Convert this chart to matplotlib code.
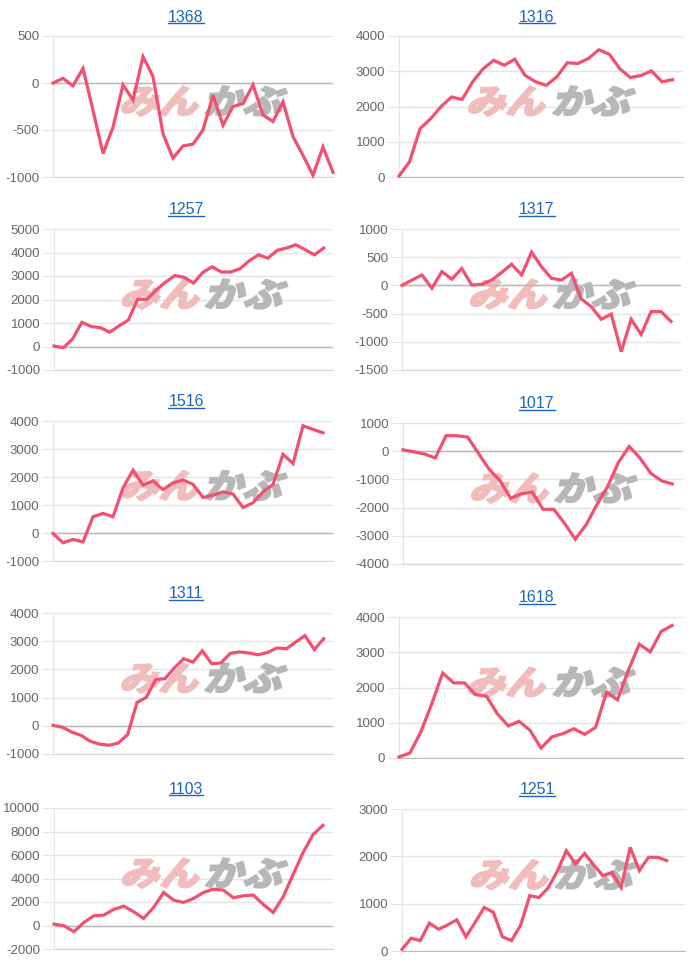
import numpy as np
import matplotlib
matplotlib.use("Agg")
import matplotlib.pyplot as plt
from matplotlib.font_manager import FontProperties
from matplotlib.textpath import TextPath
from matplotlib.patches import PathPatch
from matplotlib.transforms import Affine2D, ScaledTranslation
from matplotlib.lines import Line2D

plt.rcParams['font.family'] = ['Liberation Sans', 'DejaVu Sans']
plt.rcParams['axes.unicode_minus'] = False

titles = ['1368', '1316', '1257', '1317', '1516', '1017', '1311', '1618', '1103', '1251']

v1368 = [0, 50, -30, 155, -290, -750, -470, -20, -180, 280, 70, -540, -800, -670, -650,
         -500, -130, -450, -250, -220, -20, -340, -410, -200, -570, -770, -980, -680, -950]
v1316 = [30, 430, 1370, 1650, 2000, 2270, 2200, 2700, 3070, 3310, 3170, 3340, 2880, 2700,
         2600, 2840, 3240, 3220, 3360, 3610, 3480, 3070, 2820, 2880, 3010, 2700, 2760]
v1257 = [20, -50, 320, 1030, 850, 800, 610, 880, 1130, 2010, 2010, 2410, 2740, 3020, 2940,
         2700, 3150, 3390, 3170, 3170, 3310, 3650, 3900, 3760, 4090, 4190, 4330, 4120, 3900, 4190]
v1317 = [0, 95, 185, -50, 245, 110, 300, 7, 19, 95, 230, 375, 185, 590, 330, 125, 95, 215,
         -240, -380, -600, -510, -1175, -600, -870, -465, -465, -640]
v1516 = [-15, -350, -230, -320, 580, 700, 580, 1610, 2240, 1710, 1860, 1550, 1790, 1890,
         1740, 1270, 1350, 1470, 1390, 910, 1080, 1470, 1730, 2810, 2480, 3830, 3700, 3580]
v1017 = [50, -20, -100, -240, 550, 550, 500, -70, -640, -1040, -1670, -1510, -1450, -2060,
         -2060, -2560, -3120, -2610, -1900, -1250, -400, 170, -240, -780, -1050, -1160]
v1311 = [17, -50, -220, -340, -550, -650, -690, -610, -310, 830, 1010, 1640, 1670, 2050, 2380,
         2260, 2660, 2200, 2230, 2570, 2620, 2580, 2520, 2600, 2760, 2730, 2970, 3200, 2700, 3090]
v1618 = [30, 140, 740, 1540, 2410, 2130, 2130, 1800, 1750, 1260, 910, 1040, 785, 280, 600,
         690, 830, 670, 870, 1870, 1650, 2490, 3230, 3010, 3590, 3760]
v1103 = [120, -20, -530, 260, 830, 890, 1370, 1650, 1170, 600, 1540, 2810, 2160, 1960, 2300,
         2810, 3090, 3010, 2360, 2530, 2590, 1790, 1110, 2440, 4340, 6210, 7740, 8530]
v1251 = [35, 270, 220, 590, 460, 550, 660, 300, 600, 920, 820, 300, 220, 550, 1170, 1130,
         1330, 1680, 2120, 1840, 2060, 1820, 1590, 1660, 1340, 2190, 1700, 1980, 1980, 1910]

series = [v1368, v1316, v1257, v1317, v1516, v1017, v1311, v1618, v1103, v1251]
label_counts = [29, 28, 31, 29, 29, 27, 31, 27, 29, 32]
y_ticks = [(-1000, 500, 500), (0, 4000, 1000), (-1000, 5000, 1000), (-1500, 1000, 500),
           (-1000, 4000, 1000), (-4000, 1000, 1000), (-1000, 4000, 1000), (0, 4000, 1000),
           (-2000, 10000, 2000), (0, 3000, 1000)]

# plot boxes in pixels: left, top, right, bottom
boxes = [(53, 36, 333, 177), (399, 36, 683, 177),
         (54, 229, 333, 370), (402, 229, 681, 370),
         (53, 421, 333, 561), (403, 423, 683, 564),
         (53, 613, 333, 754), (399, 617, 683, 758),
         (54, 808, 333, 949), (402, 809, 685, 951)]
title_x = [186, 537]

W, H = 700, 966
LINE = '#f2506e'
GRID = '#e4e4e4'
ZERO = '#b8b8b8'

fig = plt.figure(figsize=(W / 100, H / 100), dpi=100)
cjk = FontProperties(family='Noto Sans CJK JP', weight='heavy')


def watermark(ax, text, x, y, color):
    path = TextPath((0, 0), text, size=27, prop=cjk)
    tr = (Affine2D().skew_deg(14, 0).scale(fig.dpi / 72 * 1.05, fig.dpi / 72 * 0.9)
          + ScaledTranslation(x, y, ax.transAxes))
    ax.add_patch(PathPatch(path, transform=tr, facecolor=color, edgecolor=color,
                           lw=1.2, zorder=1, clip_on=False))


title_texts = []
for i, vals in enumerate(series):
    l, t, r, b = boxes[i]
    ax = fig.add_axes([l / W, 1 - b / H, (r - l) / W, (b - t) / H])
    lo, hi, step = y_ticks[i]

    watermark(ax, 'みん', 0.235, 0.45, '#f1bcbc')
    watermark(ax, 'かぶ', 0.535, 0.45, '#b7b7b7')

    x = np.arange(len(vals))
    ax.plot(x, vals, color=LINE, lw=2.3, zorder=3, solid_joinstyle='miter', clip_on=False)

    ax.set_xlim(0, label_counts[i] - 1)
    ax.set_ylim(lo, hi)
    ax.set_xticks([])
    ax.set_yticks(np.arange(lo, hi + step, step))
    ax.yaxis.grid(True, color=GRID, lw=1, zorder=0)
    ax.set_axisbelow(True)
    if lo < 0 < hi:
        ax.axhline(0, color=ZERO, lw=1, zorder=1.5)
    for s in ['top', 'right']:
        ax.spines[s].set_visible(False)
    ax.spines['left'].set_color(GRID)
    ax.spines['bottom'].set_color(ZERO if lo == 0 else '#d6d6d6')
    ax.tick_params(axis='y', length=8, color=GRID, pad=2, labelsize=9.5,
                   labelcolor='#666666')

    tx = title_x[i % 2] / W
    ty = 1 - (t - 19) / H
    title_texts.append(fig.text(tx, ty, titles[i], ha='center', va='center',
                                fontsize=11.5, color='#1a66c2'))

# underline titles like links
fig.canvas.draw()
for tt in title_texts:
    bb = tt.get_window_extent()
    yy = (bb.y0 + 1.5) / H
    fig.add_artist(Line2D([bb.x0 / W, bb.x1 / W], [yy, yy], color='#1a66c2', lw=1.0))

fig.savefig('out.png', dpi=100)
